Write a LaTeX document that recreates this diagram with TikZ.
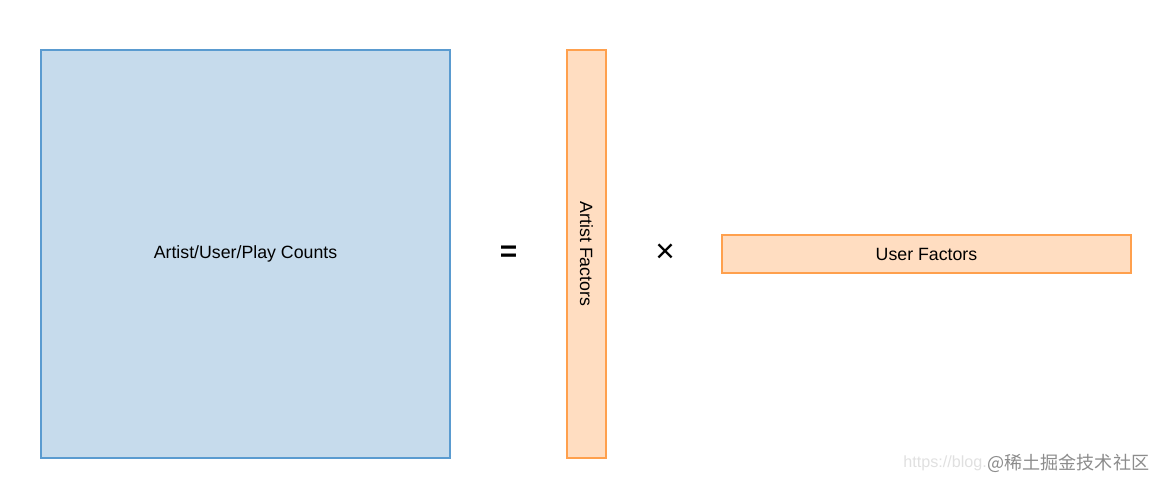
\documentclass[tikz,border=0pt]{standalone}
\usepackage{fontspec}
\setmainfont{Liberation Sans}
\newfontfamily\cjk{Noto Sans CJK SC}
\definecolor{bluefill}{HTML}{C6DBEC}
\definecolor{blueline}{HTML}{5A9BD0}
\definecolor{orfill}{HTML}{FFDDC1}
\definecolor{orline}{HTML}{FFA04D}
\begin{document}
\begin{tikzpicture}[x=0.02cm,y=-0.02cm,
  lbl/.style={font=\fontsize{10.1}{12}\selectfont},
  mat/.style={draw=#1line,fill=#1fill,line width=1.1pt,inner sep=0pt,outer sep=0pt,lbl},
  op/.style={font=\fontsize{17}{18}\selectfont\bfseries,inner sep=0pt},
  wm/.style={inner sep=0pt,anchor=west}]
\useasboundingbox (0,0) rectangle (1154,480);
\node[mat=blue,minimum width=409*0.02cm,minimum height=408*0.02cm] (counts) at (245.5,254) {Artist/User/Play Counts};
\node[op] (eq) at (508.5,253.5) {=};
\node[mat=or,minimum width=39*0.02cm,minimum height=408*0.02cm] (artist) at (586.5,254) {};
\node[rotate=-90,lbl,inner sep=0pt] (artistlbl) at (artist.center) {Artist Factors};
\node[op,font=\fontsize{19}{20}\selectfont] (times) at (665,253.5) {×};
\node[mat=or,minimum width=409*0.02cm,minimum height=38*0.02cm] (user) at (926.5,254) {User Factors};
\node[wm,text=black!12,font=\fontsize{9.2}{11}\selectfont] (url) at (903,463) {https://blog.};
\node[wm,text=black!45,font=\cjk\fontsize{10.3}{12}\selectfont] (brand) at (987,463) {@稀土掘金技术社区};
\end{tikzpicture}
\end{document}
